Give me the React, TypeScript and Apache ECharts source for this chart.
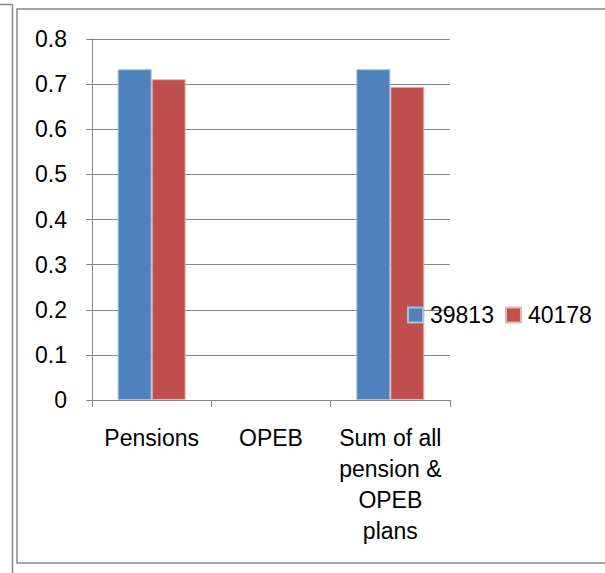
import React, { useEffect, useRef } from "react";
import * as echarts from "echarts";

const categories = ["Pensions", "OPEB", "Sum of all\npension &\nOPEB\nplans"];
const seriesNames = ["39813", "40178"];
const values39813 = [0.733, null, 0.733];
const values40178 = [0.711, null, 0.694];
const yTicks = [0, 0.1, 0.2, 0.3, 0.4, 0.5, 0.6, 0.7, 0.8];

const FONT = "'Liberation Sans', Arial, sans-serif";
const GRAY = "#868686";

export default function App() {
  const ref = useRef<HTMLDivElement>(null);
  useEffect(() => {
    if (!ref.current) return;
    const chart = echarts.init(ref.current, null, { renderer: "svg" });
    chart.setOption({
      animation: false,
      backgroundColor: "#ffffff",
      textStyle: { fontFamily: FONT },
      graphic: [
        { type: "line", shape: { x1: 0, y1: 4.5, x2: 12.5, y2: 4.5 }, style: { stroke: GRAY, lineWidth: 1.5 } },
        { type: "line", shape: { x1: 12.5, y1: 4.5, x2: 12.5, y2: 573 }, style: { stroke: GRAY, lineWidth: 1.5 } },
        { type: "rect", shape: { x: 17, y: 9, width: 600, height: 554 }, style: { fill: "none", stroke: GRAY, lineWidth: 1.5 } },
      ],
      grid: { left: 92, top: 39, right: 155, bottom: 173, containLabel: false },
      legend: {
        data: seriesNames,
        left: 402,
        top: 298,
        itemWidth: 15,
        itemHeight: 15,
        itemGap: 11,
        icon: "rect",
        textStyle: { fontFamily: FONT, fontSize: 23, color: "#000", lineHeight: 24, padding: [0, 0, 0, 2] },
      },
      xAxis: {
        type: "category",
        data: categories,
        axisLine: { lineStyle: { color: GRAY, width: 1 } },
        axisTick: { show: true, length: 7, lineStyle: { color: GRAY } },
        axisLabel: { fontFamily: FONT, fontSize: 23, color: "#000", margin: 22, lineHeight: 31, interval: 0 },
      },
      yAxis: {
        type: "value",
        min: 0,
        max: 0.8,
        interval: 0.1,
        axisLine: { show: true, lineStyle: { color: GRAY, width: 1 } },
        axisTick: { show: true, length: 6, lineStyle: { color: GRAY } },
        splitLine: { show: true, lineStyle: { color: GRAY, width: 1 } },
        axisLabel: {
          fontFamily: FONT,
          fontSize: 23,
          color: "#000",
          margin: 25,
          formatter: (v: number) => {
            const t = yTicks.find((y) => Math.abs(y - v) < 1e-9);
            return t === undefined ? "" : String(t);
          },
        },
      },
      series: [
        {
          name: seriesNames[0],
          type: "bar",
          data: values39813,
          barWidth: 34,
          barGap: "0%",
          itemStyle: { color: "#4F81BD", borderColor: "#A7C0DE", borderWidth: 1 },
        },
        {
          name: seriesNames[1],
          type: "bar",
          data: values40178,
          barWidth: 34,
          barGap: "0%",
          itemStyle: { color: "#C0504D", borderColor: "#E4B6B5", borderWidth: 1 },
        },
      ],
    });
    return () => chart.dispose();
  }, []);
  return (
    <div
      ref={ref}
      style={{ position: "fixed", left: 0, top: 0, width: 605, height: 573, background: "#fff" }}
    />
  );
}
